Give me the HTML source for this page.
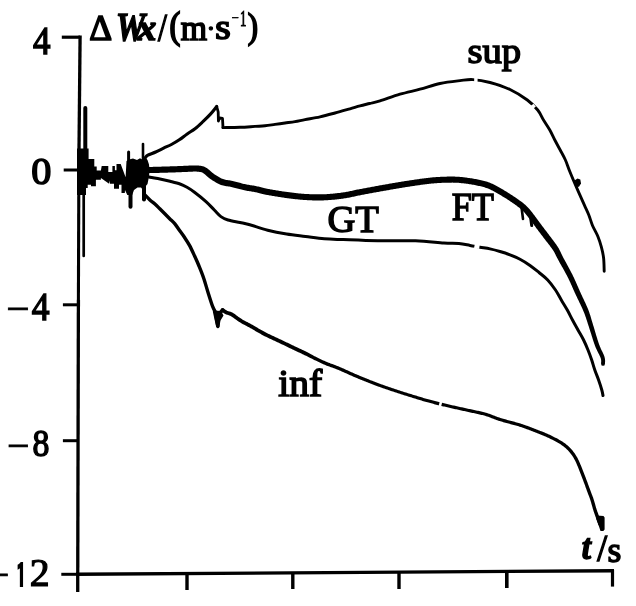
<!DOCTYPE html>
<html><head><meta charset="utf-8"><title>Chart</title>
<style>
html,body{margin:0;padding:0;background:#fff;width:636px;height:606px;overflow:hidden}
svg{display:block}
text{font-family:"Liberation Serif","Times New Roman",serif;fill:#000}
</style></head><body>
<svg width="636" height="606" viewBox="0 0 636 606">
<rect width="636" height="606" fill="#fff"/>

<g stroke="#000" fill="none" stroke-linecap="butt">
<line x1="80.1" y1="35.5" x2="78.9" y2="160" stroke-width="3.3"/>
<line x1="78.9" y1="160" x2="78.4" y2="300" stroke-width="3.1"/>
<line x1="78.4" y1="300" x2="77.7" y2="592" stroke-width="3.3"/>
<line x1="76" y1="574.3" x2="614" y2="570.7" stroke-width="3.4"/>
<line x1="61.8" y1="37.2" x2="80" y2="37.2" stroke-width="3.2"/>
<line x1="63.7" y1="170" x2="79.5" y2="170" stroke-width="3"/>
<line x1="62.9" y1="304.8" x2="79" y2="304.8" stroke-width="3"/>
<line x1="62.9" y1="440.7" x2="78" y2="440.7" stroke-width="3"/>
<line x1="61.3" y1="574.3" x2="78" y2="574.3" stroke-width="3"/>
<line x1="187" y1="573" x2="187" y2="590" stroke-width="3.4"/>
<line x1="292.8" y1="572" x2="292.8" y2="589" stroke-width="3.4"/>
<line x1="399" y1="571.5" x2="399" y2="589" stroke-width="3.4"/>
<line x1="506.8" y1="571" x2="506.8" y2="588" stroke-width="3.6"/>
<line x1="612.5" y1="570" x2="612.5" y2="586.6" stroke-width="3.2"/>
</g>
<g stroke="#000" fill="none" stroke-linejoin="round" stroke-linecap="round">
<path d="M145,158 C145.48,157.53 146.12,156.2 147.9,155.2 C149.68,154.2 153.08,153.18 155.7,152 C158.32,150.82 160.98,149.35 163.6,148.1 C166.22,146.85 168.78,145.88 171.4,144.5 C174.02,143.12 176.67,141.57 179.3,139.8 C181.93,138.03 184.58,135.73 187.2,133.9 C189.82,132.07 192.38,130.83 195,128.8 C197.62,126.77 200.28,124.18 202.9,121.7 C205.52,119.22 208.4,116.43 210.7,113.9 C213,111.37 215.7,107.73 216.7,106.5" stroke-width="3.1"/>
<path d="M216.7,106.5 L218.2,112 L218.4,121 L219.5,118 L222.5,118.5 L223,127.6" stroke-width="2.8"/>
<path d="M223,127.6 C225.83,127.55 234.67,127.5 240,127.3 C245.33,127.1 250.83,126.65 255,126.4 C259.17,126.15 261.67,126.13 265,125.8 C268.33,125.47 271.67,124.87 275,124.4 C278.33,123.93 281.67,123.47 285,123 C288.33,122.53 291.67,122.17 295,121.6 C298.33,121.03 300.83,120.4 305,119.6 C309.17,118.8 315,117.9 320,116.8 C325,115.7 330,114.33 335,113 C340,111.67 345.83,109.98 350,108.8 C354.17,107.62 356.73,106.78 360,105.9 C363.27,105.02 366.27,104.33 369.6,103.5 C372.93,102.67 374.93,102.45 380,100.9 C385.07,99.35 393.33,96.15 400,94.2 C406.67,92.25 413.33,90.98 420,89.2 C426.67,87.42 433.33,84.93 440,83.5 C446.67,82.07 454.5,81.25 460,80.6 C465.5,79.95 468,79.28 473,79.6 C478,79.92 483.83,80.85 490,82.5 C496.17,84.15 503.78,86.58 510,89.5 C516.22,92.42 522.68,96.58 527.3,100 C531.92,103.42 535,106.67 537.7,110 C540.4,113.33 541.48,116.67 543.5,120 C545.52,123.33 547.92,126.67 549.8,130 C551.68,133.33 553.07,136.67 554.8,140 C556.53,143.33 558.43,146.67 560.2,150 C561.97,153.33 563.77,156.33 565.4,160 C567.03,163.67 568,167.1 570,172 C572,176.9 575,183.87 577.4,189.4 C579.8,194.93 582.5,200.93 584.4,205.2 C586.3,209.47 587.43,211.58 588.8,215 C590.17,218.42 591.08,222.12 592.6,225.7 C594.12,229.28 596.43,232.92 597.9,236.5 C599.37,240.08 600.45,243.62 601.4,247.2 C602.35,250.78 603.13,254 603.6,258 C604.07,262 604.1,269 604.2,271.2" stroke-width="2.9"/>
<path d="M146,176 C146.67,176.22 147.67,176.8 150,177.3 C152.33,177.8 156.67,178.33 160,179 C163.33,179.67 166.67,180.47 170,181.3 C173.33,182.13 177.17,183 180,184 C182.83,185 184.58,185.93 187,187.3 C189.42,188.67 191.33,189.82 194.5,192.2 C197.67,194.58 202.7,198.63 206,201.6 C209.3,204.57 211.82,207.5 214.3,210 C216.78,212.5 218.62,214.93 220.9,216.6 C223.18,218.27 224.82,219.02 228,220 C231.18,220.98 236.52,221.75 240,222.5 C243.48,223.25 244.28,223.22 248.9,224.5 C253.52,225.78 261.42,228.62 267.7,230.2 C273.98,231.78 280.3,232.97 286.6,234 C292.9,235.03 299.22,235.62 305.5,236.4 C311.78,237.18 318.02,238.17 324.3,238.7 C330.58,239.23 334.3,239.25 343.2,239.6 C352.1,239.95 365.65,240.6 377.7,240.8 C389.75,241 404.48,240.43 415.5,240.8 C426.52,241.17 436.57,242.53 443.8,243 C451.03,243.47 454.53,243.2 458.9,243.6 C463.27,244 466.48,244.8 470,245.4 C473.52,246 476.67,246.62 480,247.2 C483.33,247.78 486.67,248.18 490,248.9 C493.33,249.62 496.67,250.52 500,251.5 C503.33,252.48 506.67,253.52 510,254.8 C513.33,256.08 516.67,257.43 520,259.2 C523.33,260.97 526.83,263.18 530,265.4 C533.17,267.62 536.05,270.07 539,272.5 C541.95,274.93 544.95,277.08 547.7,280 C550.45,282.92 553.23,286.67 555.5,290 C557.77,293.33 559.33,296.67 561.3,300 C563.27,303.33 565.43,306.67 567.3,310 C569.17,313.33 570.72,316.67 572.5,320 C574.28,323.33 576.15,326.67 578,330 C579.85,333.33 581.93,336.67 583.6,340 C585.27,343.33 586.65,346.67 588,350 C589.35,353.33 590.57,356.67 591.7,360 C592.83,363.33 593.65,366.67 594.8,370 C595.95,373.33 597.43,376.67 598.6,380 C599.77,383.33 601.07,387.4 601.8,390 C602.53,392.6 602.8,394.67 603,395.6" stroke-width="3"/>
<path d="M144,194 C144.98,194.98 148.08,198.25 149.9,199.9 C151.72,201.55 153.25,202.42 154.9,203.9 C156.55,205.38 158.15,207.15 159.8,208.8 C161.45,210.45 163.15,212.15 164.8,213.8 C166.45,215.45 168.05,217.05 169.7,218.7 C171.35,220.35 173.05,221.72 174.7,223.7 C176.35,225.68 177.95,228.3 179.6,230.6 C181.25,232.9 182.95,235.03 184.6,237.5 C186.25,239.97 187.85,242.35 189.5,245.4 C191.15,248.45 192.92,252.37 194.5,255.8 C196.08,259.23 197.47,262.27 199,266 C200.53,269.73 202.17,273.7 203.7,278.2 C205.23,282.7 206.72,288.3 208.2,293 C209.68,297.7 211.37,303.18 212.6,306.4 C213.83,309.62 215.1,311.32 215.6,312.3" stroke-width="3.4"/>
<path d="M214.5,311.5 L217.8,326.5 L219,314 L222.6,310" stroke-width="3.4"/>
<path d="M521.5,207 L523,219" stroke-width="2.6"/>
<path d="M530,213 L531.7,225.6" stroke-width="3"/>
<path d="M85.3,108 L85.3,150" stroke-width="4"/>
<path d="M83.7,186 L83.7,256" stroke-width="2.7"/>
<path d="M128.6,152 L128.6,165" stroke-width="3"/>
<path d="M143,144 L143,162" stroke-width="2.6"/>
<path d="M130.5,185 L130.5,206.8" stroke-width="4"/>
<path d="M144,185 L144,199.4" stroke-width="4"/>
</g>
<g fill="#000" stroke="none">
<path d="M145.27,172.51 L145.68,172.61 L146.49,172.82 L147.9,173.02 L149.91,173.1 L150.71,173.1 L151.53,173.09 L152.44,173.07 L153.41,173.05 L154.45,173.02 L155.54,172.99 L156.65,172.96 L157.79,172.93 L158.93,172.89 L160.06,172.85 L161.17,172.82 L162.24,172.78 L163.26,172.75 L164.22,172.72 L165.09,172.69 L166.29,172.66 L167.41,172.63 L168.45,172.6 L169.45,172.57 L170.4,172.54 L171.33,172.51 L172.25,172.48 L173.18,172.45 L174.13,172.42 L175.11,172.39 L176.11,172.35 L177.12,172.31 L178.12,172.27 L179.13,172.23 L180.13,172.19 L181.13,172.15 L182.13,172.11 L183.13,172.07 L184.13,172.03 L185.13,171.99 L186.16,171.94 L187.22,171.89 L188.28,171.83 L189.35,171.78 L190.4,171.73 L191.42,171.68 L192.41,171.64 L193.34,171.61 L194.2,171.59 L194.98,171.58 L196.18,171.6 L197.22,171.64 L198.12,171.7 L198.92,171.78 L199.66,171.88 L200.41,172.02 L201.36,172.21 L201.82,172.33 L202.28,172.54 L203.32,173.18 L203.79,173.52 L204.4,173.99 L205.1,174.57 L205.87,175.22 L206.69,175.93 L207.55,176.66 L208.45,177.41 L209.38,178.15 L210.32,178.88 L211.26,179.54 L212.16,180.14 L213.05,180.72 L213.96,181.3 L214.89,181.87 L215.84,182.44 L216.81,182.98 L217.81,183.51 L218.83,184 L219.87,184.46 L220.95,184.89 L222.06,185.26 L223.15,185.55 L224.22,185.79 L225.27,185.98 L226.29,186.14 L227.29,186.29 L228.28,186.43 L229.28,186.59 L230.28,186.77 L231.33,187 L232.19,187.2 L233.12,187.43 L234.09,187.68 L235.1,187.94 L236.13,188.21 L237.18,188.49 L238.24,188.77 L239.3,189.06 L240.36,189.33 L241.39,189.6 L242.41,189.85 L243.4,190.08 L244.36,190.3 L245.52,190.54 L246.61,190.74 L247.64,190.92 L248.63,191.07 L249.57,191.21 L250.5,191.34 L251.43,191.48 L252.37,191.63 L253.35,191.8 L254.4,192 L255.22,192.18 L256.06,192.36 L256.91,192.56 L257.78,192.77 L258.67,192.99 L259.59,193.22 L260.54,193.45 L261.53,193.69 L262.55,193.94 L263.62,194.18 L264.74,194.42 L265.91,194.67 L267.12,194.91 L267.99,195.07 L268.87,195.23 L269.79,195.4 L270.73,195.57 L271.7,195.74 L272.68,195.92 L273.69,196.09 L274.71,196.26 L275.74,196.44 L276.78,196.61 L277.84,196.78 L278.89,196.95 L279.95,197.12 L281.01,197.28 L282.06,197.44 L283.11,197.6 L284.15,197.75 L285.18,197.89 L286.19,198.03 L287.19,198.16 L288.19,198.3 L289.19,198.43 L290.2,198.56 L291.2,198.68 L292.2,198.81 L293.21,198.93 L294.21,199.04 L295.22,199.16 L296.23,199.27 L297.23,199.37 L298.24,199.48 L299.25,199.57 L300.26,199.67 L301.27,199.75 L302.28,199.84 L303.29,199.91 L304.3,199.98 L305.31,200.05 L306.37,200.11 L307.43,200.17 L308.49,200.22 L309.55,200.27 L310.61,200.32 L311.66,200.36 L312.72,200.39 L313.78,200.42 L314.84,200.44 L315.9,200.46 L316.96,200.47 L318.03,200.47 L319.09,200.47 L320.15,200.46 L321.22,200.44 L322.29,200.42 L323.35,200.39 L324.42,200.35 L325.5,200.3 L326.58,200.25 L327.67,200.18 L328.76,200.11 L329.86,200.03 L330.96,199.94 L332.06,199.85 L333.15,199.75 L334.24,199.65 L335.33,199.54 L336.41,199.42 L337.48,199.3 L338.54,199.18 L339.59,199.05 L340.62,198.92 L341.64,198.79 L342.64,198.66 L343.63,198.52 L344.73,198.36 L345.79,198.18 L346.83,198.01 L347.84,197.82 L348.83,197.63 L349.8,197.44 L350.75,197.24 L351.7,197.04 L352.64,196.83 L353.58,196.63 L354.52,196.42 L355.47,196.21 L356.44,196 L357.42,195.8 L358.43,195.59 L359.48,195.39 L360.39,195.22 L361.32,195.04 L362.26,194.86 L363.22,194.68 L364.19,194.49 L365.17,194.31 L366.16,194.12 L367.15,193.94 L368.15,193.75 L369.16,193.56 L370.17,193.37 L371.19,193.18 L372.2,193 L373.22,192.81 L374.23,192.62 L375.24,192.44 L376.25,192.26 L377.25,192.07 L378.24,191.89 L379.23,191.72 L380.22,191.54 L381.21,191.36 L382.21,191.18 L383.2,191 L384.19,190.83 L385.19,190.65 L386.18,190.48 L387.17,190.3 L388.16,190.13 L389.16,189.95 L390.15,189.78 L391.14,189.61 L392.14,189.44 L393.13,189.27 L394.12,189.1 L395.12,188.93 L396.11,188.76 L397.1,188.6 L398.09,188.43 L399.09,188.27 L400.08,188.1 L401.08,187.93 L402.07,187.77 L403.07,187.6 L404.06,187.44 L405.05,187.28 L406.04,187.12 L407.04,186.96 L408.03,186.8 L409.02,186.64 L410.01,186.49 L410.99,186.33 L411.98,186.18 L412.97,186.04 L413.95,185.89 L414.94,185.75 L415.93,185.61 L416.97,185.46 L418.02,185.31 L419.06,185.16 L420.1,185.02 L421.14,184.87 L422.18,184.73 L423.22,184.59 L424.25,184.45 L425.29,184.32 L426.32,184.19 L427.35,184.06 L428.38,183.94 L429.41,183.82 L430.44,183.71 L431.46,183.6 L432.49,183.5 L433.52,183.41 L434.54,183.32 L435.58,183.24 L436.64,183.17 L437.71,183.1 L438.79,183.03 L439.88,182.97 L440.98,182.91 L442.07,182.86 L443.17,182.82 L444.25,182.77 L445.33,182.74 L446.39,182.71 L447.44,182.68 L448.47,182.66 L449.47,182.64 L450.44,182.63 L451.39,182.63 L452.3,182.62 L453.16,182.63 L454.4,182.65 L455.54,182.68 L456.62,182.73 L457.64,182.79 L458.62,182.86 L459.57,182.94 L460.5,183.03 L461.43,183.13 L462.36,183.24 L463.32,183.36 L464.3,183.48 L465.32,183.6 L466.36,183.74 L467.4,183.87 L468.45,184.02 L469.5,184.17 L470.55,184.34 L471.6,184.5 L472.64,184.68 L473.68,184.86 L474.7,185.05 L475.7,185.25 L476.69,185.45 L477.66,185.65 L478.7,185.89 L479.73,186.12 L480.73,186.35 L481.7,186.58 L482.66,186.83 L483.6,187.08 L484.53,187.34 L485.44,187.63 L486.35,187.93 L487.26,188.25 L488.18,188.6 L489,188.95 L489.84,189.33 L490.69,189.73 L491.54,190.15 L492.4,190.6 L493.27,191.07 L494.14,191.54 L495.01,192.03 L495.89,192.53 L496.76,193.03 L497.64,193.53 L498.51,194.02 L499.43,194.55 L500.34,195.08 L501.25,195.6 L502.14,196.13 L503.03,196.67 L503.91,197.21 L504.8,197.75 L505.68,198.31 L506.57,198.87 L507.46,199.44 L508.35,200.02 L509.18,200.57 L510.04,201.14 L510.91,201.72 L511.78,202.32 L512.66,202.92 L513.53,203.52 L514.38,204.12 L515.21,204.71 L516.01,205.29 L516.78,205.85 L517.5,206.38 L518.16,206.89 L519.08,207.6 L519.89,208.24 L520.61,208.83 L521.26,209.39 L521.88,209.94 L522.49,210.52 L523.13,211.16 L523.81,211.86 L524.42,212.53 L525.02,213.21 L525.63,213.92 L526.24,214.67 L526.86,215.46 L527.5,216.28 L528.17,217.15 L528.88,218.07 L529.61,219.03 L530.18,219.77 L530.76,220.54 L531.36,221.35 L531.98,222.19 L532.61,223.05 L533.25,223.93 L533.9,224.82 L534.55,225.72 L535.21,226.62 L535.87,227.52 L536.54,228.42 L537.2,229.3 L537.81,230.11 L538.42,230.92 L539.03,231.73 L539.65,232.53 L540.27,233.34 L540.89,234.15 L541.51,234.96 L542.13,235.76 L542.75,236.57 L543.37,237.38 L543.98,238.19 L544.59,238.99 L545.2,239.81 L545.84,240.63 L546.48,241.46 L547.13,242.29 L547.78,243.12 L548.43,243.95 L549.07,244.77 L549.7,245.59 L550.31,246.39 L550.91,247.19 L551.49,247.98 L552.04,248.76 L552.56,249.51 L553.05,250.25 L553.57,251.08 L554.03,251.85 L554.44,252.58 L554.82,253.3 L555.19,254.03 L555.58,254.81 L555.98,255.63 L556.43,256.53 L556.92,257.52 L557.49,258.61 L558.13,259.81 L558.54,260.57 L558.98,261.35 L559.44,262.17 L559.92,263.02 L560.41,263.9 L560.92,264.8 L561.45,265.72 L561.98,266.66 L562.52,267.62 L563.06,268.58 L563.61,269.55 L564.16,270.53 L564.7,271.51 L565.23,272.48 L565.76,273.45 L566.28,274.41 L566.78,275.35 L567.26,276.28 L567.73,277.18 L568.18,278.08 L568.62,278.98 L569.05,279.88 L569.47,280.79 L569.9,281.69 L570.31,282.59 L570.72,283.5 L571.13,284.41 L571.54,285.31 L571.95,286.22 L572.35,287.13 L572.75,288.05 L573.16,288.96 L573.56,289.88 L573.97,290.79 L574.38,291.71 L574.79,292.63 L575.21,293.56 L575.64,294.48 L576.07,295.41 L576.51,296.34 L576.95,297.28 L577.4,298.22 L577.86,299.17 L578.31,300.11 L578.77,301.05 L579.22,301.99 L579.67,302.92 L580.12,303.85 L580.56,304.78 L580.99,305.69 L581.41,306.6 L581.83,307.49 L582.23,308.37 L582.61,309.24 L582.99,310.09 L583.34,310.92 L583.68,311.73 L584.12,312.8 L584.51,313.81 L584.88,314.78 L585.23,315.72 L585.55,316.64 L585.86,317.55 L586.17,318.46 L586.47,319.38 L586.77,320.33 L587.08,321.31 L587.41,322.32 L587.75,323.39 L588.12,324.51 L588.51,325.7 L588.79,326.57 L589.09,327.47 L589.39,328.42 L589.7,329.4 L590.02,330.41 L590.34,331.44 L590.66,332.49 L591,333.55 L591.33,334.62 L591.67,335.7 L592,336.78 L592.34,337.85 L592.68,338.91 L593.02,339.95 L593.35,340.98 L593.69,341.98 L594.02,342.95 L594.34,343.88 L594.67,344.78 L594.99,345.65 L595.48,346.91 L595.99,348.13 L596.52,349.3 L597.04,350.41 L597.56,351.47 L598.06,352.48 L598.55,353.43 L599.01,354.34 L599.43,355.2 L599.82,356 L600.17,356.76 L600.46,357.46 L600.67,358.04 L601.02,359.37 L601.17,360.47 L601.2,361.45 L601.16,362.33 L601.1,363.16 L601.1,363.85 L604.9,363.95 L604.93,363.39 L605.02,362.61 L605.1,361.53 L605.09,360.19 L604.92,358.63 L604.53,356.96 L604.23,356.05 L603.9,355.2 L603.53,354.33 L603.13,353.44 L602.71,352.53 L602.26,351.6 L601.8,350.64 L601.33,349.65 L600.85,348.63 L600.38,347.57 L599.91,346.47 L599.46,345.34 L599.01,344.15 L598.73,343.34 L598.44,342.48 L598.14,341.57 L597.83,340.62 L597.52,339.63 L597.2,338.62 L596.88,337.59 L596.56,336.54 L596.24,335.47 L595.92,334.4 L595.6,333.32 L595.28,332.25 L594.96,331.18 L594.65,330.12 L594.34,329.08 L594.04,328.07 L593.74,327.07 L593.45,326.11 L593.16,325.18 L592.89,324.3 L592.53,323.12 L592.2,322.01 L591.89,320.95 L591.59,319.93 L591.31,318.95 L591.03,317.98 L590.75,317.03 L590.46,316.07 L590.16,315.11 L589.85,314.13 L589.51,313.13 L589.15,312.09 L588.75,311 L588.32,309.87 L587.97,309 L587.61,308.12 L587.23,307.23 L586.83,306.32 L586.43,305.41 L586.02,304.49 L585.59,303.56 L585.16,302.62 L584.72,301.68 L584.28,300.74 L583.84,299.79 L583.4,298.84 L582.95,297.9 L582.51,296.96 L582.07,296.02 L581.63,295.08 L581.2,294.15 L580.78,293.23 L580.36,292.32 L579.96,291.41 L579.55,290.5 L579.15,289.59 L578.75,288.68 L578.35,287.77 L577.95,286.86 L577.55,285.94 L577.15,285.02 L576.75,284.1 L576.34,283.18 L575.93,282.26 L575.52,281.34 L575.11,280.41 L574.69,279.48 L574.26,278.55 L573.82,277.62 L573.38,276.69 L572.93,275.75 L572.47,274.82 L572,273.87 L571.51,272.9 L571.01,271.92 L570.5,270.93 L569.97,269.93 L569.44,268.93 L568.9,267.93 L568.36,266.93 L567.83,265.94 L567.29,264.96 L566.76,264 L566.24,263.05 L565.73,262.12 L565.24,261.22 L564.76,260.34 L564.3,259.49 L563.86,258.68 L563.45,257.91 L563.07,257.19 L562.48,256.03 L561.96,255 L561.51,254.06 L561.1,253.18 L560.71,252.35 L560.32,251.53 L559.93,250.71 L559.51,249.88 L559.05,249.02 L558.53,248.11 L557.95,247.15 L557.41,246.3 L556.84,245.45 L556.25,244.6 L555.65,243.74 L555.03,242.89 L554.4,242.04 L553.76,241.18 L553.12,240.34 L552.48,239.49 L551.85,238.66 L551.22,237.83 L550.6,237.01 L550,236.19 L549.38,235.38 L548.76,234.56 L548.14,233.74 L547.52,232.92 L546.89,232.11 L546.27,231.3 L545.65,230.49 L545.03,229.69 L544.42,228.89 L543.81,228.08 L543.2,227.29 L542.6,226.49 L542,225.7 L541.36,224.83 L540.71,223.96 L540.06,223.07 L539.4,222.17 L538.75,221.28 L538.1,220.39 L537.46,219.5 L536.82,218.63 L536.19,217.78 L535.58,216.95 L534.97,216.14 L534.39,215.37 L533.65,214.41 L532.94,213.49 L532.26,212.6 L531.59,211.74 L530.92,210.9 L530.26,210.08 L529.58,209.28 L528.89,208.5 L528.19,207.74 L527.43,206.94 L526.69,206.21 L525.97,205.52 L525.24,204.86 L524.48,204.21 L523.67,203.55 L522.8,202.86 L521.84,202.11 L521.12,201.57 L520.35,201 L519.55,200.41 L518.72,199.81 L517.85,199.2 L516.97,198.58 L516.08,197.96 L515.18,197.34 L514.28,196.73 L513.39,196.13 L512.51,195.54 L511.65,194.98 L510.73,194.38 L509.82,193.79 L508.9,193.21 L507.99,192.63 L507.07,192.07 L506.16,191.51 L505.24,190.95 L504.31,190.4 L503.38,189.86 L502.44,189.31 L501.49,188.78 L500.63,188.29 L499.76,187.79 L498.88,187.28 L497.98,186.77 L497.07,186.27 L496.15,185.76 L495.23,185.26 L494.29,184.77 L493.34,184.3 L492.38,183.84 L491.4,183.41 L490.42,183 L489.37,182.59 L488.33,182.21 L487.29,181.87 L486.25,181.55 L485.22,181.25 L484.19,180.98 L483.16,180.71 L482.12,180.46 L481.07,180.22 L480.02,179.98 L478.94,179.75 L477.93,179.53 L476.88,179.31 L475.82,179.11 L474.75,178.91 L473.67,178.72 L472.59,178.53 L471.49,178.36 L470.4,178.19 L469.31,178.03 L468.22,177.88 L467.14,177.73 L466.08,177.6 L465.05,177.47 L464.05,177.34 L463.07,177.23 L462.1,177.11 L461.12,177.01 L460.12,176.91 L459.1,176.82 L458.03,176.74 L456.93,176.68 L455.76,176.63 L454.53,176.59 L453.24,176.57 L452.32,176.56 L451.37,176.56 L450.39,176.57 L449.39,176.58 L448.36,176.6 L447.3,176.62 L446.23,176.64 L445.14,176.68 L444.03,176.71 L442.92,176.76 L441.8,176.8 L440.68,176.86 L439.56,176.91 L438.44,176.98 L437.33,177.04 L436.22,177.12 L435.13,177.19 L434.06,177.28 L432.99,177.36 L431.92,177.46 L430.86,177.56 L429.8,177.67 L428.74,177.79 L427.68,177.91 L426.62,178.03 L425.57,178.16 L424.51,178.3 L423.46,178.43 L422.41,178.57 L421.36,178.71 L420.31,178.86 L419.26,179 L418.22,179.15 L417.17,179.3 L416.12,179.45 L415.07,179.59 L414.08,179.74 L413.08,179.88 L412.07,180.03 L411.07,180.18 L410.07,180.33 L409.07,180.48 L408.07,180.64 L407.07,180.8 L406.07,180.96 L405.07,181.12 L404.07,181.28 L403.08,181.44 L402.08,181.61 L401.08,181.77 L400.08,181.94 L399.09,182.1 L398.09,182.27 L397.09,182.44 L396.1,182.6 L395.1,182.77 L394.1,182.94 L393.11,183.11 L392.11,183.27 L391.11,183.45 L390.11,183.62 L389.11,183.79 L388.12,183.96 L387.12,184.14 L386.12,184.31 L385.12,184.49 L384.13,184.66 L383.13,184.84 L382.13,185.02 L381.14,185.19 L380.14,185.37 L379.15,185.55 L378.15,185.73 L377.16,185.91 L376.16,186.09 L375.16,186.27 L374.15,186.45 L373.13,186.64 L372.12,186.82 L371.1,187.01 L370.08,187.2 L369.06,187.39 L368.05,187.58 L367.04,187.76 L366.03,187.95 L365.03,188.14 L364.04,188.33 L363.06,188.51 L362.09,188.69 L361.13,188.88 L360.18,189.06 L359.25,189.23 L358.32,189.41 L357.25,189.62 L356.2,189.83 L355.18,190.04 L354.19,190.26 L353.22,190.47 L352.27,190.67 L351.34,190.88 L350.42,191.08 L349.5,191.27 L348.58,191.46 L347.65,191.65 L346.72,191.83 L345.77,192 L344.8,192.17 L343.8,192.33 L342.77,192.48 L341.82,192.61 L340.84,192.75 L339.85,192.88 L338.84,193 L337.82,193.12 L336.79,193.24 L335.75,193.36 L334.7,193.47 L333.65,193.58 L332.59,193.68 L331.53,193.77 L330.46,193.86 L329.4,193.95 L328.34,194.02 L327.29,194.09 L326.25,194.15 L325.21,194.21 L324.18,194.25 L323.15,194.29 L322.13,194.32 L321.11,194.34 L320.08,194.36 L319.06,194.36 L318.03,194.37 L317.01,194.36 L315.98,194.35 L314.96,194.33 L313.93,194.31 L312.9,194.29 L311.88,194.25 L310.85,194.21 L309.82,194.17 L308.79,194.12 L307.75,194.07 L306.72,194.01 L305.69,193.95 L304.71,193.89 L303.74,193.82 L302.76,193.75 L301.78,193.67 L300.81,193.58 L299.83,193.49 L298.85,193.39 L297.86,193.29 L296.88,193.19 L295.9,193.08 L294.91,192.97 L293.93,192.86 L292.94,192.74 L291.95,192.61 L290.97,192.49 L289.98,192.36 L288.99,192.23 L288,192.1 L287.01,191.97 L286.02,191.83 L285.01,191.69 L283.99,191.54 L282.97,191.39 L281.93,191.23 L280.89,191.07 L279.85,190.91 L278.81,190.74 L277.78,190.57 L276.75,190.4 L275.73,190.23 L274.73,190.06 L273.74,189.89 L272.76,189.72 L271.81,189.55 L270.88,189.38 L269.98,189.21 L269.11,189.05 L268.28,188.89 L267.12,188.67 L266.02,188.44 L264.96,188.21 L263.94,187.97 L262.95,187.74 L262,187.51 L261.06,187.27 L260.14,187.05 L259.23,186.82 L258.33,186.6 L257.43,186.39 L256.52,186.19 L255.6,186 L254.46,185.78 L253.38,185.59 L252.37,185.42 L251.4,185.28 L250.46,185.14 L249.55,185.01 L248.63,184.86 L247.69,184.7 L246.7,184.52 L245.64,184.3 L244.78,184.11 L243.86,183.89 L242.89,183.65 L241.89,183.39 L240.86,183.12 L239.82,182.84 L238.76,182.56 L237.71,182.28 L236.66,182 L235.62,181.73 L234.61,181.48 L233.63,181.23 L232.67,181 L231.47,180.75 L230.31,180.54 L229.21,180.36 L228.18,180.21 L227.21,180.07 L226.3,179.93 L225.44,179.77 L224.62,179.59 L223.84,179.37 L223.05,179.11 L222.24,178.79 L221.41,178.43 L220.58,178.02 L219.75,177.58 L218.91,177.11 L218.07,176.61 L217.23,176.09 L216.39,175.56 L215.55,175.01 L214.74,174.46 L213.96,173.91 L213.17,173.31 L212.35,172.65 L211.52,171.96 L210.69,171.25 L209.86,170.54 L209.05,169.85 L208.26,169.2 L207.48,168.59 L206.68,168.02 L205.25,167.14 L203.93,166.54 L202.74,166.21 L201.59,165.98 L200.66,165.8 L199.67,165.66 L198.63,165.55 L197.53,165.48 L196.33,165.44 L195.02,165.42 L194.12,165.42 L193.17,165.44 L192.18,165.47 L191.15,165.51 L190.1,165.56 L189.04,165.61 L187.97,165.67 L186.91,165.72 L185.88,165.77 L184.87,165.81 L183.87,165.85 L182.87,165.9 L181.87,165.94 L180.87,165.98 L179.87,166.02 L178.87,166.06 L177.88,166.1 L176.88,166.14 L175.89,166.18 L174.89,166.21 L173.92,166.24 L172.98,166.27 L172.06,166.3 L171.15,166.33 L170.22,166.36 L169.27,166.39 L168.28,166.41 L167.23,166.44 L166.12,166.47 L164.91,166.51 L164.03,166.53 L163.07,166.56 L162.04,166.6 L160.97,166.63 L159.86,166.67 L158.73,166.7 L157.6,166.74 L156.47,166.77 L155.36,166.81 L154.29,166.83 L153.27,166.86 L152.32,166.88 L151.44,166.89 L150.67,166.9 L150.09,166.9 L148.37,166.84 L147.64,166.73 L147.24,166.61 L146.73,166.49 Z"/><circle cx="146" cy="169.5" r="3.1"/><circle cx="603" cy="363.9" r="1.9"/>
<path d="M221.46,311.52 L222,311.93 L222.82,312.55 L223.89,313.29 L225.15,314 L226.17,314.43 L227.21,314.79 L228.25,315.12 L229.26,315.45 L230.19,315.8 L231.02,316.18 L231.79,316.64 L232.58,317.18 L233.39,317.79 L234.23,318.44 L235.11,319.11 L236.01,319.75 L236.86,320.34 L237.67,320.9 L238.49,321.45 L239.35,322.02 L240.3,322.62 L241.34,323.24 L242.17,323.71 L242.99,324.15 L243.81,324.58 L244.67,325.02 L245.59,325.5 L246.62,326.03 L247.77,326.64 L249.08,327.36 L249.76,327.74 L250.49,328.16 L251.26,328.6 L252.07,329.07 L252.92,329.56 L253.8,330.07 L254.7,330.6 L255.62,331.14 L256.56,331.68 L257.51,332.23 L258.47,332.78 L259.43,333.32 L260.39,333.86 L261.34,334.39 L262.28,334.91 L263.21,335.41 L264.12,335.89 L265.08,336.38 L266.03,336.85 L266.98,337.32 L267.93,337.78 L268.87,338.24 L269.82,338.68 L270.76,339.12 L271.7,339.56 L272.65,339.99 L273.58,340.42 L274.52,340.85 L275.46,341.28 L276.39,341.71 L277.32,342.14 L278.25,342.58 L279.18,343.02 L280.13,343.47 L281.09,343.93 L282.06,344.39 L283.04,344.86 L284.03,345.34 L285.02,345.81 L286.01,346.29 L286.99,346.76 L287.96,347.23 L288.92,347.69 L289.86,348.14 L290.78,348.59 L291.68,349.02 L292.54,349.43 L293.38,349.83 L294.18,350.22 L295.29,350.74 L296.35,351.24 L297.34,351.7 L298.29,352.14 L299.2,352.56 L300.08,352.97 L300.93,353.36 L301.75,353.75 L302.56,354.13 L303.36,354.52 L304.16,354.9 L305.2,355.41 L306.15,355.87 L307.04,356.33 L307.93,356.78 L308.84,357.24 L309.82,357.74 L310.9,358.28 L312.12,358.87 L312.94,359.27 L313.81,359.7 L314.72,360.14 L315.68,360.61 L316.66,361.09 L317.67,361.58 L318.69,362.07 L319.73,362.57 L320.77,363.05 L321.8,363.53 L322.83,364 L323.84,364.45 L324.83,364.87 L325.79,365.27 L326.71,365.63 L327.61,365.97 L328.48,366.29 L329.35,366.6 L330.21,366.9 L331.08,367.2 L331.97,367.51 L332.89,367.84 L333.85,368.19 L334.85,368.57 L335.92,368.98 L337.06,369.44 L337.85,369.77 L338.66,370.11 L339.51,370.48 L340.38,370.86 L341.28,371.25 L342.2,371.66 L343.15,372.07 L344.1,372.5 L345.07,372.93 L346.06,373.37 L347.05,373.81 L348.05,374.26 L349.05,374.7 L350.05,375.15 L351.06,375.59 L352.05,376.03 L353.05,376.46 L354.03,376.88 L355.01,377.3 L355.97,377.7 L356.92,378.1 L357.86,378.49 L358.81,378.89 L359.76,379.28 L360.71,379.67 L361.66,380.06 L362.61,380.45 L363.56,380.83 L364.5,381.22 L365.45,381.6 L366.4,381.98 L367.35,382.36 L368.3,382.73 L369.25,383.11 L370.2,383.48 L371.15,383.84 L372.1,384.21 L373.04,384.57 L373.99,384.93 L374.94,385.29 L375.94,385.66 L376.93,386.03 L377.93,386.39 L378.92,386.75 L379.92,387.11 L380.91,387.46 L381.9,387.82 L382.89,388.16 L383.89,388.51 L384.88,388.85 L385.87,389.2 L386.86,389.54 L387.85,389.87 L388.85,390.21 L389.84,390.54 L390.83,390.88 L391.82,391.21 L392.82,391.54 L393.81,391.87 L394.81,392.2 L395.82,392.54 L396.83,392.87 L397.85,393.2 L398.87,393.53 L399.9,393.86 L400.92,394.19 L401.95,394.52 L402.97,394.84 L403.98,395.16 L405,395.48 L406,395.8 L407,396.11 L407.99,396.42 L408.97,396.72 L409.93,397.02 L410.88,397.32 L411.82,397.61 L412.74,397.89 L413.8,398.22 L414.83,398.54 L415.83,398.85 L416.81,399.16 L417.78,399.46 L418.72,399.75 L419.66,400.04 L420.6,400.33 L421.54,400.61 L422.48,400.9 L423.43,401.18 L424.4,401.46 L425.38,401.75 L426.39,402.03 L427.42,402.32 L428.49,402.61 L429.41,402.86 L430.34,403.12 L431.29,403.37 L432.26,403.62 L433.23,403.87 L434.21,404.13 L435.21,404.38 L436.21,404.63 L437.22,404.88 L438.23,405.14 L439.24,405.39 L440.26,405.64 L441.28,405.89 L442.3,406.13 L443.31,406.38 L444.33,406.62 L445.34,406.86 L446.34,407.1 L447.34,407.34 L448.33,407.57 L449.33,407.8 L450.33,408.03 L451.32,408.26 L452.32,408.48 L453.32,408.71 L454.31,408.93 L455.31,409.15 L456.31,409.36 L457.3,409.58 L458.3,409.8 L459.3,410.02 L460.29,410.23 L461.29,410.45 L462.28,410.67 L463.27,410.89 L464.27,411.11 L465.26,411.33 L466.25,411.55 L467.26,411.78 L468.27,412 L469.3,412.22 L470.32,412.44 L471.36,412.66 L472.39,412.88 L473.42,413.1 L474.45,413.32 L475.48,413.54 L476.5,413.76 L477.51,413.98 L478.51,414.2 L479.5,414.43 L480.47,414.66 L481.43,414.89 L482.37,415.12 L483.29,415.36 L484.19,415.6 L485.06,415.84 L486.12,416.15 L487.11,416.47 L488.07,416.79 L488.99,417.12 L489.89,417.45 L490.77,417.79 L491.65,418.14 L492.53,418.49 L493.43,418.84 L494.34,419.2 L495.29,419.56 L496.27,419.93 L497.3,420.3 L498.38,420.67 L499.52,421.04 L500.42,421.31 L501.35,421.59 L502.31,421.87 L503.29,422.15 L504.3,422.43 L505.33,422.71 L506.37,422.99 L507.43,423.28 L508.49,423.56 L509.55,423.84 L510.62,424.13 L511.68,424.41 L512.73,424.69 L513.77,424.97 L514.79,425.26 L515.79,425.54 L516.77,425.82 L517.72,426.09 L518.63,426.37 L519.51,426.64 L520.64,427.01 L521.74,427.37 L522.79,427.73 L523.82,428.09 L524.82,428.44 L525.8,428.8 L526.76,429.16 L527.72,429.51 L528.66,429.87 L529.6,430.24 L530.54,430.6 L531.49,430.97 L532.44,431.35 L533.42,431.73 L534.41,432.12 L535.35,432.48 L536.29,432.85 L537.23,433.21 L538.17,433.57 L539.1,433.93 L540.03,434.29 L540.97,434.65 L541.89,435.02 L542.82,435.39 L543.75,435.77 L544.67,436.16 L545.59,436.56 L546.52,436.97 L547.44,437.39 L548.35,437.82 L549.28,438.27 L550.16,438.71 L551.06,439.16 L551.97,439.62 L552.89,440.08 L553.81,440.55 L554.73,441.03 L555.65,441.51 L556.56,442.01 L557.46,442.51 L558.35,443.02 L559.23,443.53 L560.08,444.06 L560.92,444.59 L561.72,445.13 L562.5,445.67 L563.25,446.22 L563.97,446.79 L564.75,447.44 L565.51,448.09 L566.24,448.75 L566.94,449.41 L567.62,450.09 L568.28,450.77 L568.91,451.47 L569.53,452.18 L570.14,452.92 L570.73,453.67 L571.31,454.45 L571.89,455.26 L572.45,456.09 L573.02,456.96 L573.58,457.86 L574.04,458.63 L574.48,459.42 L574.91,460.25 L575.34,461.09 L575.75,461.96 L576.16,462.86 L576.56,463.77 L576.96,464.7 L577.35,465.65 L577.74,466.6 L578.13,467.58 L578.51,468.56 L578.9,469.54 L579.28,470.54 L579.67,471.53 L580.06,472.53 L580.45,473.53 L580.85,474.52 L581.23,475.47 L581.61,476.44 L582,477.45 L582.39,478.48 L582.79,479.52 L583.19,480.58 L583.59,481.65 L583.98,482.72 L584.37,483.78 L584.76,484.83 L585.14,485.87 L585.51,486.89 L585.87,487.88 L586.21,488.84 L586.55,489.77 L586.87,490.65 L587.17,491.48 L587.46,492.26 L587.73,492.99 L588.27,494.45 L588.71,495.61 L589.08,496.55 L589.38,497.33 L589.64,498.04 L589.9,498.75 L590.17,499.55 L590.49,500.52 L590.77,501.41 L591.06,502.37 L591.35,503.38 L591.64,504.43 L591.94,505.49 L592.23,506.56 L592.52,507.61 L592.81,508.63 L593.1,509.6 L593.38,510.52 L593.76,511.7 L594.13,512.79 L594.48,513.8 L594.83,514.76 L595.17,515.69 L595.51,516.63 L595.85,517.59 L596.22,518.65 L596.63,519.8 L597.03,520.96 L597.43,522.09 L597.79,523.11 L598.09,523.97 L598.3,524.61 L601.7,523.39 L601.46,522.76 L601.15,521.91 L600.78,520.89 L600.37,519.77 L599.95,518.61 L599.53,517.47 L599.15,516.41 L598.78,515.43 L598.42,514.48 L598.07,513.56 L597.72,512.62 L597.36,511.65 L597,510.62 L596.62,509.48 L596.35,508.62 L596.07,507.68 L595.79,506.68 L595.5,505.65 L595.2,504.58 L594.9,503.51 L594.6,502.45 L594.3,501.42 L594,500.42 L593.71,499.48 L593.37,498.47 L593.08,497.62 L592.8,496.87 L592.52,496.13 L592.22,495.34 L591.86,494.41 L591.42,493.26 L590.87,491.81 L590.61,491.1 L590.33,490.33 L590.02,489.5 L589.7,488.62 L589.37,487.7 L589.02,486.74 L588.66,485.74 L588.28,484.72 L587.9,483.68 L587.52,482.62 L587.12,481.56 L586.72,480.48 L586.32,479.41 L585.92,478.34 L585.52,477.28 L585.12,476.24 L584.72,475.23 L584.33,474.23 L583.95,473.28 L583.56,472.3 L583.17,471.31 L582.78,470.32 L582.39,469.33 L582.01,468.33 L581.62,467.34 L581.23,466.35 L580.83,465.36 L580.43,464.38 L580.03,463.41 L579.62,462.44 L579.19,461.49 L578.76,460.55 L578.32,459.63 L577.87,458.73 L577.4,457.84 L576.92,456.97 L576.42,456.14 L575.82,455.18 L575.22,454.26 L574.61,453.36 L573.99,452.5 L573.36,451.66 L572.72,450.84 L572.06,450.04 L571.39,449.27 L570.69,448.51 L569.98,447.77 L569.24,447.04 L568.48,446.32 L567.7,445.61 L566.88,444.91 L566.03,444.21 L565.25,443.6 L564.43,442.99 L563.58,442.4 L562.71,441.83 L561.83,441.26 L560.92,440.71 L560.01,440.17 L559.08,439.64 L558.14,439.12 L557.2,438.61 L556.26,438.12 L555.32,437.63 L554.38,437.15 L553.45,436.68 L552.53,436.22 L551.62,435.77 L550.72,435.33 L549.77,434.86 L548.81,434.41 L547.86,433.98 L546.91,433.56 L545.95,433.15 L545,432.75 L544.05,432.36 L543.11,431.98 L542.16,431.61 L541.22,431.24 L540.27,430.88 L539.33,430.52 L538.4,430.16 L537.46,429.8 L536.53,429.44 L535.59,429.08 L534.6,428.7 L533.63,428.32 L532.67,427.94 L531.72,427.57 L530.77,427.2 L529.82,426.84 L528.87,426.47 L527.9,426.11 L526.92,425.75 L525.92,425.39 L524.9,425.02 L523.85,424.66 L522.76,424.3 L521.65,423.93 L520.49,423.56 L519.58,423.27 L518.64,422.99 L517.67,422.71 L516.67,422.42 L515.66,422.14 L514.62,421.85 L513.57,421.57 L512.51,421.29 L511.45,421 L510.38,420.72 L509.32,420.44 L508.26,420.16 L507.21,419.88 L506.18,419.6 L505.16,419.32 L504.16,419.04 L503.19,418.77 L502.25,418.5 L501.35,418.23 L500.48,417.96 L499.39,417.61 L498.35,417.26 L497.37,416.91 L496.42,416.56 L495.5,416.21 L494.6,415.85 L493.72,415.5 L492.83,415.15 L491.93,414.8 L491.02,414.45 L490.09,414.11 L489.12,413.76 L488.11,413.42 L487.05,413.09 L485.94,412.76 L485.03,412.51 L484.1,412.26 L483.15,412.02 L482.19,411.78 L481.21,411.55 L480.22,411.32 L479.21,411.09 L478.2,410.86 L477.18,410.64 L476.15,410.42 L475.12,410.2 L474.08,409.98 L473.05,409.76 L472.02,409.54 L470.99,409.33 L469.96,409.11 L468.95,408.89 L467.94,408.67 L466.95,408.45 L465.95,408.23 L464.95,408 L463.96,407.79 L462.96,407.57 L461.96,407.35 L460.97,407.13 L459.97,406.92 L458.97,406.7 L457.98,406.48 L456.98,406.27 L455.99,406.05 L455,405.83 L454,405.61 L453.01,405.39 L452.02,405.17 L451.03,404.95 L450.04,404.72 L449.05,404.49 L448.06,404.26 L447.07,404.03 L446.07,403.79 L445.06,403.55 L444.05,403.31 L443.04,403.07 L442.02,402.82 L441.01,402.57 L439.99,402.33 L438.98,402.08 L437.98,401.83 L436.98,401.58 L435.98,401.33 L434.99,401.08 L434.02,400.83 L433.05,400.58 L432.09,400.33 L431.15,400.08 L430.22,399.83 L429.31,399.59 L428.26,399.3 L427.24,399.01 L426.24,398.73 L425.27,398.45 L424.31,398.17 L423.37,397.89 L422.44,397.61 L421.51,397.33 L420.58,397.05 L419.65,396.76 L418.7,396.47 L417.74,396.17 L416.76,395.87 L415.76,395.56 L414.73,395.24 L413.66,394.91 L412.74,394.63 L411.81,394.34 L410.86,394.04 L409.89,393.74 L408.91,393.44 L407.93,393.14 L406.93,392.83 L405.93,392.51 L404.92,392.2 L403.9,391.88 L402.89,391.55 L401.86,391.23 L400.84,390.9 L399.82,390.58 L398.81,390.25 L397.79,389.92 L396.79,389.59 L395.78,389.26 L394.79,388.93 L393.8,388.6 L392.81,388.26 L391.82,387.93 L390.84,387.59 L389.85,387.25 L388.86,386.92 L387.88,386.58 L386.89,386.23 L385.91,385.89 L384.92,385.54 L383.94,385.2 L382.96,384.85 L381.97,384.49 L380.99,384.14 L380,383.78 L379.02,383.42 L378.03,383.05 L377.05,382.68 L376.06,382.31 L375.12,381.96 L374.18,381.6 L373.25,381.23 L372.31,380.87 L371.37,380.5 L370.42,380.13 L369.48,379.75 L368.54,379.37 L367.6,378.99 L366.66,378.61 L365.72,378.23 L364.77,377.84 L363.83,377.46 L362.89,377.07 L361.95,376.68 L361,376.28 L360.06,375.89 L359.12,375.49 L358.17,375.1 L357.23,374.7 L356.29,374.3 L355.33,373.88 L354.35,373.46 L353.37,373.03 L352.38,372.59 L351.39,372.14 L350.39,371.7 L349.39,371.25 L348.4,370.8 L347.41,370.36 L346.42,369.91 L345.45,369.48 L344.49,369.05 L343.55,368.62 L342.62,368.21 L341.72,367.81 L340.83,367.42 L339.97,367.05 L339.14,366.7 L338.34,366.36 L337.16,365.88 L336.06,365.44 L335.02,365.04 L334.04,364.68 L333.1,364.34 L332.2,364.02 L331.33,363.71 L330.48,363.41 L329.64,363.1 L328.8,362.79 L327.95,362.46 L327.08,362.11 L326.17,361.73 L325.22,361.31 L324.24,360.87 L323.24,360.41 L322.23,359.94 L321.21,359.45 L320.19,358.96 L319.18,358.47 L318.19,357.98 L317.21,357.49 L316.27,357.02 L315.36,356.57 L314.49,356.14 L313.68,355.73 L312.5,355.12 L311.47,354.57 L310.53,354.05 L309.65,353.56 L308.78,353.07 L307.88,352.57 L306.91,352.05 L305.84,351.5 L305.02,351.09 L304.19,350.7 L303.37,350.31 L302.53,349.92 L301.68,349.52 L300.8,349.12 L299.89,348.69 L298.95,348.26 L297.96,347.79 L296.92,347.31 L295.82,346.78 L295.02,346.4 L294.18,346.01 L293.32,345.59 L292.42,345.16 L291.51,344.72 L290.57,344.27 L289.61,343.81 L288.64,343.34 L287.66,342.87 L286.67,342.39 L285.68,341.91 L284.69,341.44 L283.71,340.97 L282.73,340.5 L281.77,340.04 L280.82,339.58 L279.87,339.14 L278.93,338.7 L277.98,338.26 L277.04,337.82 L276.1,337.39 L275.17,336.96 L274.23,336.54 L273.3,336.11 L272.36,335.67 L271.43,335.24 L270.5,334.8 L269.57,334.36 L268.65,333.91 L267.72,333.45 L266.8,332.99 L265.88,332.51 L265,332.05 L264.1,331.57 L263.18,331.06 L262.24,330.54 L261.3,330.01 L260.35,329.48 L259.41,328.93 L258.46,328.39 L257.53,327.85 L256.61,327.31 L255.71,326.79 L254.83,326.28 L253.98,325.78 L253.16,325.31 L252.37,324.86 L251.63,324.43 L250.92,324.04 L249.58,323.3 L248.39,322.67 L247.34,322.12 L246.41,321.64 L245.56,321.21 L244.77,320.79 L244.01,320.39 L243.26,319.96 L242.28,319.38 L241.41,318.83 L240.6,318.3 L239.81,317.76 L239.02,317.21 L238.19,316.65 L237.37,316.06 L236.55,315.43 L235.69,314.76 L234.79,314.09 L233.83,313.43 L232.78,312.82 L231.66,312.3 L230.52,311.87 L229.42,311.5 L228.4,311.18 L227.52,310.88 L226.85,310.6 L225.9,310.07 L225.05,309.47 L224.3,308.9 L223.74,308.48 Z"/><circle cx="222.6" cy="310" r="1.9"/><circle cx="600" cy="524" r="1.8"/>
</g>
<g stroke="#fff" stroke-linecap="butt">
<line x1="474.2" y1="79.6" x2="477.6" y2="79.7" stroke-width="6"/>
<line x1="531.2" y1="105.6" x2="533.6" y2="108.4" stroke-width="6"/>
<line x1="474.5" y1="245.6" x2="479.5" y2="246.5" stroke-width="5"/>
<line x1="439.3" y1="403.3" x2="441.8" y2="403.9" stroke-width="5.5"/>
</g>
<path d="M77,148.5 L88.6,148.5 L88.6,159 L94.3,159 L94.3,166.5 L96.7,166.5 L96.7,170.6 L100.9,170.6 L101.7,166.1 L108.3,166.1 L108.3,171.9 L112.4,171.9 L112.4,166.1 L114.9,166.1 L114.9,170.2 L116.5,170.2 L116.5,164 L120.7,164 L125.6,177.2 L126.5,161 L129,159.5 L133,158.5 L137,160 L140,158.3 L143,160 L145.5,157.5 L147.5,160 L149,164.5 L149.5,172 L148.5,179 L147.5,184 L145,187 L143,190 L141,187.5 L137.5,187.5 L134,190 L132.2,195 L127.3,195 L125,190 L124.8,192.9 L121.5,192.9 L121.5,184.7 L119,184.7 L119,188.8 L114,188.8 L114,183.8 L110,183.8 L110,180.5 L109.1,183.8 L100.9,178 L100.9,179.7 L95.9,179.7 L95.9,186.3 L91,186.3 L91,184.7 L87.7,184.7 L87.7,188 L86,188 L86,194.9 L77,194.9 Z" fill="#000"/>
<path d="M214,310.5 L221,311 L223.5,315.5 L220.5,320.5 L219.3,327 L216.3,327 L214.8,319 Z" fill="#000"/>
<path d="M574.5,180.5 L577.5,178.6 L580.3,179.5 L581,183.5 L579,186.8 L576,187 Z" fill="#000"/>
<path d="M596.8,515.5 L603.5,516 L604.6,517.5 L604.6,529.5 L603.3,531 L600.5,531 L598.5,525 L596.3,519 Z" fill="#000"/>
<text stroke="#000"><tspan x="33.05" y="53.65" font-size="39.38" stroke-width="1.5" textLength="17.42" lengthAdjust="spacingAndGlyphs">4</tspan></text>
<text stroke="#000"><tspan x="31.34" y="183.67" font-size="38.07" stroke-width="1.5" textLength="20.12" lengthAdjust="spacingAndGlyphs">0</tspan></text>
<text stroke="#000"><tspan x="6.22" y="321.6" font-size="40" stroke-width="0.8" textLength="23.41" lengthAdjust="spacingAndGlyphs">−</tspan><tspan x="31.64" y="320.35" font-size="40" stroke-width="1.5" textLength="17.74" lengthAdjust="spacingAndGlyphs">4</tspan></text>
<text stroke="#000"><tspan x="7" y="458.6" font-size="40" stroke-width="0.8">−</tspan><tspan x="32.4" y="456.06" font-size="38.52" stroke-width="1.5" textLength="16.9" lengthAdjust="spacingAndGlyphs">8</tspan></text>
<text stroke="#000"><tspan x="-13.65" y="588.2" font-size="40" stroke-width="0.8" textLength="23.17" lengthAdjust="spacingAndGlyphs">−</tspan><tspan x="15.71" y="587.58" font-size="33.57" style="font-family:IPAGothic,'Liberation Sans',sans-serif" stroke-width="2.2" textLength="10.81" lengthAdjust="spacingAndGlyphs">1</tspan><tspan x="29.81" y="586.4" font-size="39.09" stroke-width="1.2" textLength="19.88" lengthAdjust="spacingAndGlyphs">2</tspan></text>
<text stroke="#000"><tspan x="89.13" y="40.35" font-size="36.79" stroke-width="1.7" textLength="22.88" lengthAdjust="spacingAndGlyphs">Δ</tspan><tspan x="115.95" y="39.66" font-size="39.55" font-weight="bold" font-style="italic" stroke-width="1.5" textLength="29.17" lengthAdjust="spacingAndGlyphs">W</tspan><tspan x="137.53" y="40.25" font-size="34.95" font-weight="bold" font-style="italic" stroke-width="1.5" textLength="18.87" lengthAdjust="spacingAndGlyphs">x</tspan><tspan x="157.95" y="40.85" font-size="40.3" stroke-width="1.5" textLength="8.89" lengthAdjust="spacingAndGlyphs">/</tspan><tspan x="169.39" y="38.16" font-size="37.11" stroke-width="1.9" textLength="10.84" lengthAdjust="spacingAndGlyphs">(</tspan><tspan x="180.67" y="39.65" font-size="36.6" stroke-width="1.7" textLength="26.28" lengthAdjust="spacingAndGlyphs">m</tspan><tspan x="206.14" y="37.81" font-size="27.83" stroke-width="1.2">·</tspan><tspan x="215.26" y="38.7" font-size="34.79" stroke-width="1.7" textLength="15.45" lengthAdjust="spacingAndGlyphs">s</tspan><tspan x="231.49" y="24.1" font-size="18.5" stroke-width="0.5" textLength="7.4" lengthAdjust="spacingAndGlyphs">−</tspan><tspan x="240.04" y="26" font-size="23.66" stroke-width="1" textLength="6.43" lengthAdjust="spacingAndGlyphs">1</tspan><tspan x="247.83" y="37.84" font-size="35.78" stroke-width="1.9" textLength="10.25" lengthAdjust="spacingAndGlyphs">)</tspan></text>
<text stroke="#000"><tspan x="467.4" y="63.06" font-size="36.62" stroke-width="1.5" textLength="53.77" lengthAdjust="spacingAndGlyphs">sup</tspan></text>
<text stroke="#000"><tspan x="327.51" y="231.86" font-size="38.81" stroke-width="1.5" textLength="51.34" lengthAdjust="spacingAndGlyphs">GT</tspan></text>
<text stroke="#000"><tspan x="451.67" y="219.55" font-size="40.92" stroke-width="1.5" textLength="42.2" lengthAdjust="spacingAndGlyphs">FT</tspan></text>
<text stroke="#000"><tspan x="278.16" y="396.45" font-size="38.29" stroke-width="1.5" textLength="44.03" lengthAdjust="spacingAndGlyphs">inf</tspan></text>
<text stroke="#000"><tspan x="581.86" y="559.49" font-size="35.79" font-weight="bold" font-style="italic" stroke-width="1.5" textLength="9.16" lengthAdjust="spacingAndGlyphs">t</tspan><tspan x="597.15" y="561.26" font-size="38.65" stroke-width="1.5" textLength="9.8" lengthAdjust="spacingAndGlyphs">/</tspan><tspan x="607.53" y="562.39" font-size="36.46" stroke-width="1.5" textLength="13.84" lengthAdjust="spacingAndGlyphs">s</tspan></text>
</svg>
</body></html>
